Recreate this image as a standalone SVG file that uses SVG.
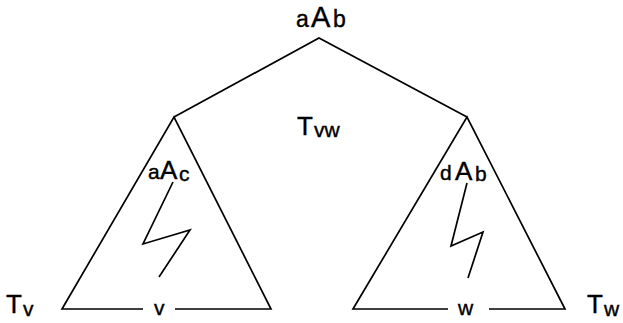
<svg xmlns="http://www.w3.org/2000/svg" width="623" height="323" viewBox="0 0 623 323">
<style>
.ln{fill:none;stroke:#000;stroke-width:1.7;stroke-linejoin:miter}
.t{font-family:"Liberation Sans",Arial,sans-serif;fill:#000;stroke:#000;stroke-width:0.4}
.big{font-size:26px}
.sm{font-size:21px}
</style>
<rect width="623" height="323" fill="#fff"/>
<g id="connectors">
<polyline class="ln" points="174,117 319,38 467,117"/>
</g>
<g id="root">
<text class="t" y="27"><tspan style="font-size:23px" x="296">a</tspan><tspan style="font-size:29px" x="311">A</tspan><tspan style="font-size:23px" x="333">b</tspan></text>
</g>
<g id="Tvw">
<text class="t" y="135"><tspan class="big" x="297">T</tspan><tspan class="sm" x="314" y="137">vw</tspan></text>
</g>
<g id="Tv">
<polyline class="ln" points="143,309 62,309 174,117 271,309 175,309"/>
<polyline class="ln" points="173,182 143,244 190,230 159,277"/>
<text class="t" y="179"><tspan class="sm" x="148">a</tspan><tspan class="big" x="160">A</tspan><tspan class="sm" x="179" y="181">c</tspan></text>
<text class="t sm" x="154" y="315">v</text>
<text class="t" y="313"><tspan class="big" x="6">T</tspan><tspan class="sm" x="23" y="316">v</tspan></text>
</g>
<g id="Tw">
<polyline class="ln" points="448,309 353,309 467,117 565,309 489,309"/>
<polyline class="ln" points="467,183 451,246 483,232 468,278"/>
<text class="t" y="180"><tspan class="sm" x="440">d</tspan><tspan class="big" x="455">A</tspan><tspan class="sm" x="475" y="181">b</tspan></text>
<text class="t sm" x="458" y="315">w</text>
<text class="t" y="313"><tspan class="big" x="587">T</tspan><tspan class="sm" x="604" y="316">w</tspan></text>
</g>
</svg>
